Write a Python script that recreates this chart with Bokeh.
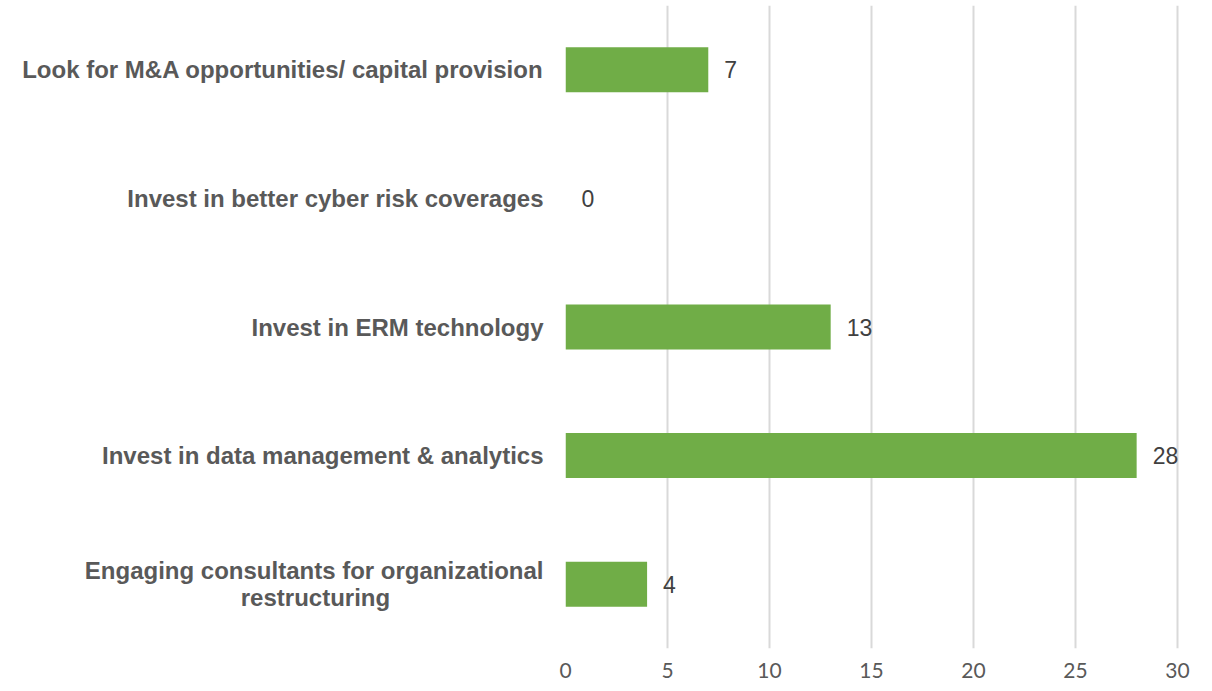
from bokeh.plotting import figure
from bokeh.models import ColumnDataSource, LabelSet, FixedTicker, FactorRange, Range1d
from bokeh.core.properties import value
from bokeh.embed import file_html
from bokeh.resources import INLINE

# Data (bottom to top); the second line of the first label is padded with
# no-break spaces so that it sits centred under the first line, as in the reference
categories = [
    "Engaging consultants for organizational\nrestructuring" + "\u00a0" * 23,
    "Invest in data management & analytics",
    "Invest in ERM technology",
    "Invest in better cyber risk coverages",
    "Look for M&A opportunities/ capital provision",
]
values = [4, 28, 13, 0, 7]
x_ticks = [0, 5, 10, 15, 20, 25, 30]
value_labels = [str(v) for v in values]

source = ColumnDataSource(dict(cat=categories, val=values, lab=value_labels))

p = figure(
    y_range=FactorRange(factors=categories, range_padding=0),
    x_range=Range1d(0, 30.64),
    width=1196, height=675,
    frame_width=625, frame_height=643,
    min_border_left=565, min_border_right=6, min_border_top=5, min_border_bottom=27,
    output_backend="svg", toolbar_location=None,
)

p.hbar(y="cat", right="val", left=0, height=0.35, source=source,
       fill_color="#70AD47", line_color=None)

labels = LabelSet(x="val", y="cat", text="lab", source=source,
                  x_offset=16, text_baseline="middle", text_align="left",
                  text_font_size="23px", text_color="#404040",
                  text_font=value("Liberation Sans"))
p.add_layout(labels)

p.outline_line_color = None
p.background_fill_color = "white"
p.border_fill_color = "white"

# x axis
p.xaxis.ticker = FixedTicker(ticks=x_ticks)
p.xaxis.axis_line_color = None
p.xaxis.major_tick_line_color = None
p.xaxis.minor_tick_line_color = None
p.xaxis.major_label_text_font = "Lato"
p.xaxis.major_label_text_font_size = "21px"
p.xaxis.major_label_text_color = "#595959"
p.xaxis.major_label_standoff = 8

# y axis
p.yaxis.axis_line_color = None
p.yaxis.major_tick_line_color = None
p.yaxis.minor_tick_line_color = None
p.yaxis.major_label_text_font = "Liberation Sans"
p.yaxis.major_label_text_font_style = "bold"
p.yaxis.major_label_text_font_size = "24px"
p.yaxis.major_label_text_color = "#595959"
p.yaxis.major_label_standoff = 16
p.yaxis.major_label_text_line_height = 1.0

# grid
p.xgrid.grid_line_color = "#d9d9d9"
p.xgrid.grid_line_width = 2
p.ygrid.grid_line_color = None

open("out.html", "w").write(file_html(p, INLINE))
